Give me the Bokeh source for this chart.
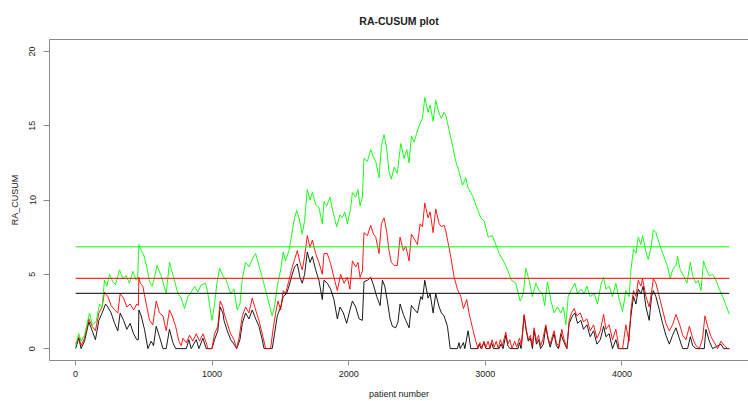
from bokeh.plotting import figure
from bokeh.models import Range1d, FixedTicker, LinearAxis
from bokeh.embed import file_html
from bokeh.resources import INLINE

# ---------------- data ----------------
title_text = "RA-CUSUM plot"
x_ticks = [0, 1000, 2000, 3000, 4000]
y_ticks = [0, 5, 10, 15, 20]

h_black = 3.72
h_red = 4.73
h_green = 6.85

green_x = [1, 24, 41, 66, 103, 122, 151, 176, 195, 212, 230, 249, 273, 293, 322, 347, 371, 395, 420, 444, 455,
           464, 481, 500, 522, 542, 561, 579, 596, 627, 664, 688, 718, 750, 774, 798, 823, 847, 872, 896, 920,
           952, 969, 999, 1018, 1035, 1055, 1079, 1103, 1111, 1136, 1160, 1184, 1204, 1221, 1245, 1270, 1294,
           1319, 1343, 1367, 1404, 1440, 1457, 1477, 1502, 1521, 1538, 1563, 1580, 1599, 1619, 1636, 1660, 1677,
           1697, 1717, 1734, 1758, 1782, 1807, 1819, 1839, 1863, 1880, 1912, 1936, 1953, 1971, 1990, 2014, 2027,
           2051, 2068, 2083, 2100, 2112, 2137, 2161, 2181, 2198, 2222, 2239, 2259, 2278, 2295, 2312, 2332, 2356,
           2381, 2405, 2425, 2442, 2459, 2479, 2498, 2515, 2540, 2557, 2581, 2596, 2618, 2637, 2662, 2679, 2698,
           2711, 2747, 2784, 2808, 2833, 2857, 2874, 2906, 2938, 2967, 2991, 3021, 3052, 3077, 3101, 3133, 3163,
           3191, 3223, 3255, 3279, 3296, 3321, 3345, 3370, 3394, 3418, 3435, 3455, 3479, 3504, 3528, 3553, 3572,
           3590, 3607, 3626, 3656, 3675, 3700, 3724, 3744, 3768, 3797, 3822, 3846, 3866, 3883, 3907, 3931, 3956,
           3980, 4005, 4029, 4053, 4066, 4085, 4103, 4120, 4139, 4151, 4176, 4193, 4213, 4230, 4249, 4266, 4291,
           4315, 4335, 4354, 4371, 4396, 4408, 4427, 4452, 4476, 4501, 4518, 4542, 4559, 4579, 4598, 4615, 4640,
           4664, 4689, 4713, 4738, 4762, 4787]
green_y = [0.2, 1.0, 0.5, 0.9, 2.4, 1.6, 1.8, 3.0, 2.8, 4.6, 4.2, 5.0, 4.5, 4.3, 5.3, 4.7, 4.9, 4.4, 5.2, 4.6, 4.7,
           7.0, 6.6, 6.3, 5.5, 4.5, 4.2, 4.8, 5.6, 4.9, 3.7, 5.8, 4.8, 3.7, 3.4, 2.7, 3.5, 3.8, 4.2, 3.8, 4.3,
           4.4, 3.7, 1.9, 3.0, 4.4, 5.4, 4.9, 4.6, 4.4, 3.7, 4.0, 2.6, 3.0, 4.7, 5.8, 5.5, 6.0,
           6.4, 5.6, 4.8, 3.5, 2.2, 2.8, 4.2, 5.3, 6.5, 5.9, 6.6, 7.5, 8.6, 9.3, 8.8, 7.7, 8.6,
           10.7, 10.0, 10.5, 9.7, 9.5, 8.4, 9.9, 9.6, 10.2, 9.4, 8.2, 9.0, 8.8, 9.2, 8.4, 9.4, 10.5,
           10.2, 10.7, 9.6, 10.2, 12.8, 12.6, 13.4, 12.9, 12.6, 11.5, 13.6, 14.4, 13.5, 11.9, 11.4, 12.2, 11.8,
           13.8, 12.8, 13.4, 12.5, 14.3, 13.9, 14.5, 15.0, 15.5, 16.9, 15.9, 16.4, 15.3, 16.7, 15.8, 15.5, 15.9,
           15.7, 14.2, 12.6, 11.9, 11.0, 11.5, 10.8, 10.3, 9.5, 8.8, 8.6, 7.5, 7.6, 7.0, 6.4, 5.9, 5.3,
           4.6, 4.4, 3.2, 3.7, 5.4, 4.6, 3.5, 4.4, 3.9, 3.7, 2.9, 4.5, 3.3, 2.4, 2.8, 2.4, 2.8,
           1.6, 3.5, 3.9, 4.4, 3.7, 4.0, 3.7, 4.2, 3.5, 3.7, 3.0, 4.3, 4.8, 4.0, 4.2, 3.5, 4.4,
           3.3, 2.5, 3.9, 3.5, 5.3, 6.7, 6.4, 7.5, 7.0, 7.6, 6.5, 6.0, 6.8, 8.0, 7.8, 7.3, 6.6,
           6.0, 5.5, 4.7, 5.3, 5.6, 6.2, 5.3, 4.9, 4.4, 5.8, 4.9, 4.4, 4.6, 3.9, 5.9, 5.4, 4.9,
           5.0, 4.6, 4.0, 3.5, 2.9, 2.3]

red_x = [1, 24, 41, 66, 98, 122, 146, 171, 195, 212, 237, 261, 286, 310, 327, 352, 376, 400, 425, 449, 460,
         464, 474, 493, 518, 542, 566, 591, 615, 640, 664, 688, 708, 733, 757, 774, 786, 811, 835, 859, 884,
         908, 933, 957, 969, 999, 1018, 1042, 1059, 1079, 1087, 1111, 1136, 1160, 1180, 1197, 1221, 1245,
         1270, 1294, 1319, 1343, 1367, 1392, 1428, 1448, 1465, 1482, 1502, 1521, 1538, 1563, 1587, 1604,
         1624, 1643, 1660, 1677, 1697, 1717, 1734, 1758, 1782, 1807, 1819, 1843, 1868, 1892, 1917, 1941,
         1966, 1990, 2009, 2027, 2051, 2068, 2083, 2100, 2112, 2137, 2161, 2181, 2198, 2222, 2239, 2259,
         2278, 2295, 2312, 2332, 2356, 2376, 2400, 2418, 2442, 2459, 2479, 2503, 2523, 2540, 2557, 2581,
         2596, 2618, 2637, 2662, 2679, 2698, 2711, 2743, 2772, 2796, 2821, 2840, 2864, 2881, 2906, 2930,
         2947, 2960, 2975, 2990, 3005, 3020, 3035, 3050, 3065, 3080, 3095, 3110, 3125, 3150, 3165, 3180,
         3195, 3215, 3230, 3250, 3265, 3284, 3300, 3315, 3330, 3345, 3357, 3375, 3390, 3405, 3420, 3443,
         3460, 3475, 3490, 3504, 3520, 3541, 3560, 3577, 3597, 3614, 3631, 3651, 3670, 3695, 3719, 3744,
         3768, 3793, 3817, 3842, 3866, 3883, 3907, 3931, 3956, 3980, 4005, 4029, 4041, 4053, 4066, 4085,
         4103, 4120, 4139, 4151, 4176, 4200, 4217, 4230, 4249, 4274, 4298, 4322, 4347, 4371, 4396, 4420,
         4445, 4469, 4494, 4518, 4542, 4567, 4591, 4608, 4628, 4652, 4677, 4701, 4725, 4750, 4774, 4787]
red_y = [0.3, 0.8, 0.2, 0.7, 2.0, 1.5, 1.2, 2.4, 2.8, 3.8, 3.5, 2.9, 2.6, 2.4, 3.7, 3.4, 2.8, 3.0, 2.6, 3.0, 2.9,
         4.8, 4.4, 4.2, 3.0, 1.9, 1.6, 3.2, 2.4, 2.2, 1.2, 2.6, 2.2, 1.5, 0.5, 0.2, 0.7, 0.4, 0.9, 0.5, 1.0,
         0.5, 1.0, 0.4, 0.0, 0.0, 1.0, 1.5, 3.2, 2.8, 2.4, 1.7, 1.0, 0.6, 0.0, 0.7, 2.2, 2.8,
         2.4, 3.4, 2.6, 1.9, 1.0, 0.0, 0.0, 1.4, 2.4, 3.2, 2.6, 3.9, 3.7, 4.6, 5.5, 6.0,
         6.6, 5.8, 5.3, 6.2, 7.6, 6.8, 7.3, 6.4, 5.8, 5.0, 6.4, 6.4, 5.7, 4.8, 3.9, 5.0,
         4.4, 4.8, 4.0, 5.9, 5.5, 5.8, 4.8, 5.2, 7.8, 7.6, 8.3, 7.7, 7.5, 6.4, 8.4, 8.8,
         7.9, 6.6, 5.8, 5.6, 5.6, 7.5, 6.6, 6.9, 5.9, 7.7, 7.4, 7.0, 8.4, 8.2, 9.8, 8.8,
         9.2, 7.8, 9.4, 8.4, 8.2, 8.3, 7.9, 6.4, 4.8, 4.0, 3.5, 2.7, 3.3, 2.4, 1.4, 0.5,
         0.0, 0.4, 0.0, 0.5, 0.1, 0.5, 0.0, 0.6, 0.1, 0.5, 0.0, 0.6, 0.2, 1.1, 0.3, 0.6,
         0.0, 0.5, 0.1, 0.7, 0.2, 2.3, 1.3, 0.6, 0.9, 0.2, 1.4, 0.5, 0.9, 0.2, 0.6, 1.6,
         0.7, 0.3, 0.8, 1.2, 0.4, 0.1, 1.3, 0.6, 0.0, 1.9, 2.4, 2.7, 2.2, 2.4, 1.8, 2.0,
         1.2, 1.6, 0.7, 1.2, 2.3, 1.3, 1.6, 0.6, 1.3, 0.0, 0.0, 1.6, 1.0, 0.5, 2.6, 3.9,
         3.5, 4.6, 4.2, 4.7, 3.5, 2.8, 3.8, 4.7, 4.4, 3.5, 2.6, 1.7, 1.2, 1.6, 2.3, 1.7,
         0.9, 0.6, 1.5, 0.7, 0.2, 0.0, 0.7, 2.2, 1.5, 0.8, 0.4, 0.0, 0.5, 0.2, 0.0, 0.0]

black_x = [1, 24, 41, 66, 98, 122, 146, 171, 195, 220, 237, 261, 286, 310, 327, 352, 376, 400, 425, 449, 460,
           464, 481, 505, 530, 554, 571, 591, 615, 640, 664, 688, 713, 733, 811, 830, 847, 884, 903, 933, 957,
           999, 1018, 1042, 1059, 1079, 1087, 1111, 1136, 1160, 1180, 1204, 1221, 1245, 1270, 1294, 1319,
           1343, 1367, 1380, 1440, 1457, 1477, 1502, 1521, 1545, 1563, 1587, 1604, 1624, 1643, 1660, 1677,
           1697, 1717, 1734, 1758, 1782, 1807, 1819, 1843, 1868, 1892, 1917, 1936, 1961, 1985, 2009, 2027,
           2051, 2076, 2100, 2112, 2137, 2161, 2181, 2205, 2230, 2247, 2264, 2283, 2303, 2320, 2344, 2361,
           2376, 2400, 2418, 2442, 2459, 2484, 2503, 2528, 2540, 2557, 2581, 2596, 2618, 2637, 2662, 2679,
           2698, 2723, 2743, 2796, 2808, 2816, 2840, 2850, 2874, 2894, 2942, 2955, 2970, 2990, 3005, 3030,
           3045, 3060, 3100, 3115, 3130, 3150, 3165, 3180, 3240, 3250, 3262, 3284, 3300, 3315, 3330, 3345,
           3357, 3375, 3390, 3405, 3425, 3443, 3460, 3475, 3490, 3504, 3520, 3535, 3553, 3577, 3597, 3614,
           3638, 3656, 3675, 3700, 3719, 3744, 3768, 3793, 3817, 3842, 3866, 3883, 3907, 3931, 3956, 3973,
           4041, 4066, 4085, 4103, 4120, 4139, 4156, 4176, 4200, 4217, 4230, 4249, 4274, 4298, 4322, 4347,
           4371, 4396, 4420, 4445, 4481, 4501, 4518, 4542, 4603, 4615, 4640, 4664, 4725, 4745, 4787]
black_y = [0.0, 0.7, 0.0, 0.5, 1.8, 1.2, 0.6, 1.9, 2.4, 3.0, 2.8, 2.4, 1.7, 1.2, 2.4, 1.9, 1.3, 1.7, 1.0, 0.6, 0.6,
           2.6, 2.2, 1.3, 0.0, 0.5, 0.2, 1.5, 0.8, 0.0, 0.0, 1.3, 0.4, 0.0, 0.0, 0.6, 0.0, 0.6, 0.0, 0.7, 0.0,
           0.0, 0.6, 1.2, 2.8, 2.4, 1.9, 1.2, 0.6, 0.3, 0.0, 0.6, 1.7, 2.4, 2.0, 2.6, 2.0,
           1.5, 0.6, 0.0, 0.0, 1.0, 2.2, 2.8, 3.5, 3.7, 4.2, 5.0, 5.5, 5.7, 4.8, 4.4, 5.0,
           6.5, 5.8, 6.2, 5.3, 4.6, 3.3, 4.6, 4.4, 4.0, 3.3, 2.0, 2.8, 2.4, 1.7, 2.6, 3.2,
           2.8, 2.0, 1.9, 4.5, 4.6, 4.8, 4.3, 3.5, 2.9, 4.6, 4.2, 3.2, 2.0, 1.5, 1.4, 1.8,
           3.0, 2.3, 1.9, 1.4, 2.9, 2.6, 2.4, 3.5, 3.3, 4.6, 3.4, 3.7, 2.4, 3.7, 2.8, 2.4,
           2.2, 1.5, 0.0, 0.0, 0.4, 0.0, 0.4, 0.0, 1.2, 0.0, 0.0, 0.3, 0.0, 0.4, 0.0, 0.0,
           0.4, 0.0, 0.0, 0.3, 0.0, 0.9, 0.2, 0.0, 0.0, 0.4, 0.0, 2.2, 1.2, 0.5, 0.7, 0.0,
           1.2, 0.3, 0.6, 0.0, 0.3, 1.5, 0.6, 0.1, 0.6, 1.0, 0.2, 0.0, 1.0, 0.4, 0.0, 1.7,
           2.2, 2.4, 1.7, 1.9, 1.3, 1.6, 0.8, 1.2, 0.3, 0.6, 1.5, 0.8, 1.0, 0.0, 0.6, 0.0,
           0.0, 2.2, 3.5, 3.0, 4.0, 3.7, 4.2, 2.8, 1.9, 3.5, 3.9, 3.5, 2.6, 1.7, 0.9, 0.3,
           0.9, 1.4, 0.7, 0.0, 0.0, 0.8, 0.2, 0.0, 0.0, 1.3, 0.5, 0.0, 0.3, 0.0, 0.0]

# ---------------- figure ----------------
AXIS_GRAY = "#8a8a8a"
TEXT = "#222222"
FONT = "Liberation Sans"

x0, x1 = black_x[0], black_x[-1]

p = figure(width=748, height=401, output_backend="svg", toolbar_location=None,
           x_range=Range1d(-190.3, 4926.8), y_range=Range1d(-0.8, 20.8),
           min_border_left=49, min_border_right=0, min_border_top=37, min_border_bottom=40,
           title=title_text)
p.grid.visible = False
p.outline_line_color = None
p.background_fill_color = "white"
p.border_fill_color = "white"

p.title.align = "center"
p.title.text_font = FONT
p.title.text_font_size = "10.5px"
p.title.text_font_style = "bold"
p.title.text_color = TEXT
p.title.text_line_height = 0.6
p.title.offset = 2
p.title.standoff = 25

for ax in (p.xaxis[0], p.yaxis[0]):
    ax.axis_line_color = AXIS_GRAY
    ax.major_tick_line_color = AXIS_GRAY
    ax.minor_tick_line_color = None
    ax.major_tick_in = 0
    ax.major_label_text_font = FONT
    ax.major_label_text_font_size = "9px"
    ax.major_label_text_color = TEXT
    ax.axis_label_text_font = FONT
    ax.axis_label_text_font_size = "9px"
    ax.axis_label_text_font_style = "normal"
    ax.axis_label_text_color = TEXT

p.xaxis.ticker = FixedTicker(ticks=x_ticks)
p.xaxis.major_tick_out = 5
p.xaxis.major_label_standoff = 5
p.xaxis.axis_label = "patient number"
p.xaxis.axis_label_standoff = 9

p.yaxis.ticker = FixedTicker(ticks=y_ticks)
p.yaxis.major_tick_out = 6
p.yaxis.major_label_standoff = 8
p.yaxis.major_label_orientation = "vertical"
p.yaxis.axis_label = "RA_CUSUM"
p.yaxis.axis_label_standoff = 7

top = LinearAxis(ticker=FixedTicker(ticks=[]), axis_line_color=AXIS_GRAY,
                 major_tick_out=0, major_tick_in=0, minor_tick_out=0, minor_tick_in=0,
                 major_label_text_font_size="0px")
p.add_layout(top, "above")

p.line(black_x, black_y, line_color="black", line_width=0.9)
p.line(red_x, red_y, line_color="#FF0000", line_width=0.9)
p.line(green_x, green_y, line_color="#00FF00", line_width=0.9)

p.line([x0, x1], [h_black, h_black], line_color="black", line_width=1)
p.line([x0, x1], [h_red, h_red], line_color="#FF0000", line_width=1)
p.line([x0, x1], [h_green, h_green], line_color="#00FF00", line_width=1)

open("out.html", "w").write(file_html(p, INLINE))
